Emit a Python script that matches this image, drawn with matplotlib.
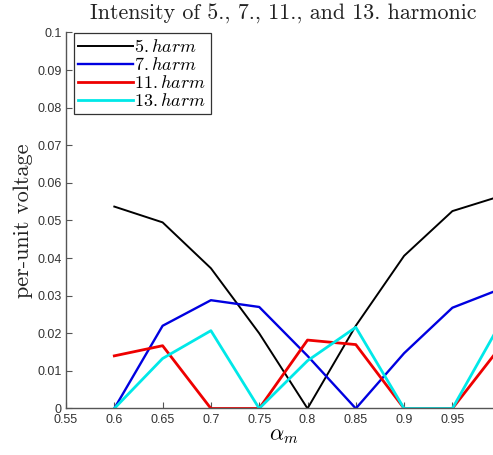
import matplotlib
matplotlib.use("Agg")
import matplotlib.pyplot as plt

# modulation index and harmonic amplitudes (per unit)
alpha = [0.6, 0.65, 0.7, 0.75, 0.8, 0.85, 0.9, 0.95, 1.0]
h5 = [0.0537, 0.0495, 0.0373, 0.020, 0.0, 0.022, 0.0406, 0.0525, 0.0565]
h7 = [0.0, 0.022, 0.0288, 0.027, 0.014, 0.0, 0.0147, 0.0268, 0.0318]
h11 = [0.014, 0.0167, 0.0, 0.0, 0.0182, 0.0170, 0.0, 0.0, 0.0165]
h13 = [0.0, 0.0133, 0.0207, 0.0, 0.0127, 0.0216, 0.0, 0.0, 0.0228]

xticks = [0.55, 0.6, 0.65, 0.7, 0.75, 0.8, 0.85, 0.9, 0.95, 1.0]
yticks = [0, 0.01, 0.02, 0.03, 0.04, 0.05, 0.06, 0.07, 0.08, 0.09, 0.1]

plt.rcParams['mathtext.fontset'] = 'cm'

fig = plt.figure(figsize=(4.93, 4.55), dpi=100)
# axes runs past the right edge, like the cropped original
ax = fig.add_axes([0.1339, 0.1022, 0.8817, 0.8264])

ax.plot(alpha, h5, color='black', lw=1.4, label=r'$5.harm$')
ax.plot(alpha, h7, color='#0000e0', lw=1.7, label=r'$7.harm$')
ax.plot(alpha, h11, color='#ee0000', lw=2.0, label=r'$11.harm$')
ax.plot(alpha, h13, color='#00e8e8', lw=2.0, label=r'$13.harm$')

ax.set_xlim(0.55, 1.0)
ax.set_ylim(0, 0.1)
ax.set_xticks(xticks)
ax.set_xticklabels([('%g' % v) for v in xticks])
ax.set_yticks(yticks)
ax.set_yticklabels([('%g' % v) for v in yticks])

for s in ['top', 'right']:
    ax.spines[s].set_visible(False)
for s in ['left', 'bottom']:
    ax.spines[s].set_color('#555555')
    ax.spines[s].set_linewidth(1.0)
ax.tick_params(direction='in', length=4, color='#555555', labelcolor='#333333',
               labelsize=9)
ax.tick_params(axis='x', pad=4)
ax.tick_params(axis='y', pad=3)
for lab in ax.get_xticklabels() + ax.get_yticklabels():
    lab.set_family('Liberation Sans')

ax.set_title('Intensity of 5., 7., 11., and 13. harmonic',
             family='cmr10', fontsize=15.8, pad=9, color='#222222')
ax.set_ylabel('per-unit voltage', family='cmr10', fontsize=16, labelpad=3,
              color='#222222')
ax.set_xlabel(r'$\alpha_m$', fontsize=16, labelpad=0)

leg = ax.legend(loc='upper left', fontsize=13, frameon=True, fancybox=False,
                handlelength=3.0, handletextpad=0.1, borderpad=0.25,
                labelspacing=0.0, borderaxespad=0.05,
                bbox_to_anchor=(0.016, 1.0))
leg.get_frame().set_edgecolor('black')
leg.get_frame().set_linewidth(0.9)

fig.savefig('out.png', dpi=100)
